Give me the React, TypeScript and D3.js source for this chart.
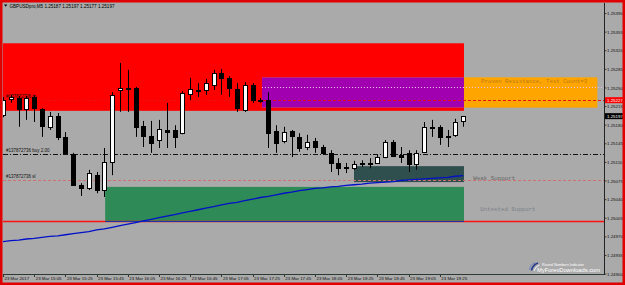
import React from "react";
import * as d3 from "d3";

const symbolName = "GBPUSDpro,M5";

const timeLabels = [
  "23 Mar 2017", "23 Mar 15:05", "23 Mar 15:25", "23 Mar 15:45", "23 Mar 16:05",
  "23 Mar 16:25", "23 Mar 16:45", "23 Mar 17:05", "23 Mar 17:25", "23 Mar 17:45",
  "23 Mar 18:05", "23 Mar 18:25", "23 Mar 18:45", "23 Mar 19:05", "23 Mar 19:25",
];
const timeLabelBars = [0, 4, 8, 12, 16, 20, 24, 28, 32, 36, 40, 44, 48, 52, 56];

const priceTicks = [
  1.2539, 1.25355, 1.2532, 1.25285, 1.2525, 1.25215, 1.2518, 1.25145,
  1.2511, 1.25075, 1.2504, 1.25005, 1.2497, 1.24935, 1.249,
];

const opens = [
  1.25199, 1.25229, 1.25231, 1.2521, 1.25233, 1.2521, 1.25177, 1.25197, 1.25158, 1.25126,
  1.25067, 1.25062, 1.25086, 1.25058, 1.25111, 1.25246, 1.25248, 1.2525, 1.25178, 1.2516,
  1.25152, 1.25171, 1.25171, 1.25165, 1.25239, 1.25246, 1.25246, 1.25256, 1.25278, 1.25269,
  1.25248, 1.25208, 1.25256, 1.25227, 1.25227, 1.25169, 1.2515, 1.25169, 1.25158, 1.25139,
  1.2515, 1.25139, 1.25128, 1.25109, 1.25101, 1.25099, 1.25107, 1.25107, 1.25109, 1.2512,
  1.25148, 1.25124, 1.25128, 1.25107, 1.2513, 1.25177, 1.25177, 1.2516, 1.25162, 1.25187,
];
const highs = [
  1.25233, 1.25237, 1.25235, 1.25235, 1.25237, 1.25212, 1.25205, 1.25203, 1.25167, 1.25128,
  1.25071, 1.25096, 1.25092, 1.25137, 1.25242, 1.25297, 1.25284, 1.25252, 1.25188, 1.25188,
  1.2519, 1.25222, 1.2518, 1.25244, 1.25269, 1.25259, 1.25267, 1.25284, 1.25286, 1.25272,
  1.25259, 1.25261, 1.25259, 1.25231, 1.25242, 1.2518, 1.25177, 1.25171, 1.25165, 1.25162,
  1.25156, 1.25143, 1.25133, 1.25118, 1.25109, 1.25113, 1.25114, 1.25118, 1.25124, 1.25152,
  1.25152, 1.25139, 1.25133, 1.25133, 1.25186, 1.2519, 1.2518, 1.25171, 1.25192, 1.25197,
];
const lows = [
  1.25195, 1.25222, 1.25177, 1.2519, 1.25186, 1.25158, 1.25171, 1.25152, 1.25126, 1.25066,
  1.25047, 1.25058, 1.25052, 1.25045, 1.25086, 1.25205, 1.25205, 1.25158, 1.25139, 1.25128,
  1.25137, 1.25137, 1.25137, 1.25163, 1.25227, 1.25233, 1.25237, 1.25246, 1.25237, 1.25233,
  1.25205, 1.25205, 1.25222, 1.25222, 1.25137, 1.25128, 1.25146, 1.2512, 1.2513, 1.25133,
  1.25128, 1.25124, 1.25092, 1.25086, 1.2509, 1.25096, 1.25101, 1.25099, 1.25107, 1.25118,
  1.2512, 1.25109, 1.25092, 1.25096, 1.25128, 1.25158, 1.25143, 1.25139, 1.25158, 1.25177,
];
const closes = [
  1.25227, 1.25233, 1.2521, 1.25231, 1.25212, 1.25178, 1.25197, 1.25158, 1.25128, 1.25067,
  1.25062, 1.2509, 1.25058, 1.25111, 1.25237, 1.2525, 1.2525, 1.25177, 1.2516, 1.25146,
  1.25173, 1.25167, 1.25158, 1.2524, 1.25248, 1.25244, 1.25259, 1.25278, 1.25269, 1.2525,
  1.25212, 1.25256, 1.25227, 1.25225, 1.25165, 1.25146, 1.25167, 1.2516, 1.25137, 1.25148,
  1.25139, 1.25128, 1.25109, 1.25099, 1.25099, 1.25107, 1.25109, 1.25109, 1.2512, 1.25148,
  1.25122, 1.2512, 1.25107, 1.25128, 1.25177, 1.25175, 1.25158, 1.25158, 1.25186, 1.25197,
];

const maValues = [
  1.24961, 1.24963, 1.24964, 1.24966, 1.24967, 1.24969, 1.24971, 1.24972, 1.24974, 1.24976,
  1.24978, 1.2498, 1.24983, 1.24985, 1.24988, 1.24991, 1.24994, 1.24997, 1.25, 1.25003,
  1.25006, 1.25009, 1.25012, 1.25015, 1.25018, 1.25021, 1.25024, 1.25027, 1.2503, 1.25033,
  1.25035, 1.25038, 1.25041, 1.25044, 1.25046, 1.25049, 1.25052, 1.25054, 1.25057, 1.25059,
  1.25061, 1.25062, 1.25064, 1.25065, 1.25067, 1.25068, 1.25069, 1.25071, 1.25072, 1.25073,
  1.25074, 1.25076, 1.25077, 1.25078, 1.25079, 1.2508, 1.25081, 1.25082, 1.25084, 1.25085,
];

// supply / demand zones (prices and bar indices)
const zoneNames = ["", "Proven Resistance, Test Count=3", "Weak Support", "Untested Support"];
const zoneHigh = [1.25334, 1.2527, 1.25103, 1.25064];
const zoneLow = [1.25207, 1.25213, 1.25073, 1.24999];
const zoneFrom = [-2, 33.2, 45, 13.1];
const zoneTo = [59.1, 76.2, 59.1, 59.1];
const zoneLabelBar = [0, 61.3, 60.3, 61.2];
const zoneLabelPrice = [0, 1.25263, 1.25081, 1.25022];

// horizontal lines (start bar for each)
const lineNames = ["#137872736 tp", "", "#137872736 buy 2.00", "#137872736 sl", ""];
const linePrices = [1.25227, 1.25251, 1.25126, 1.25077, 1.25];
const lineFromBar = [-1, 33.2, -1, -1, -1];

export default function App() {
  const W = 625, H = 285;
  const left = 3, right = 604, top = 3, bottom = 274;
  const barStep = 7.8;
  const x = d3.scaleLinear().domain([0, (right - left) / barStep]).range([left, right]);
  const y = d3.scaleLinear().domain([1.2539, 1.249]).range([13.5, 274.1]);
  const font = "'Liberation Sans', Arial, sans-serif";
  const mono = "'Liberation Mono', 'Courier New', monospace";

  const zoneFill = ["#ff0000", "#ffa500", "#2f4f4f", "#2e8b57"];
  const zoneText = ["#000", "#b87a12", "#686868", "#7a8088"];
  const zoneTextLen = [0, 106, 42, 55];

  const ovFrom = Math.max(zoneFrom[0], zoneFrom[1]);
  const ovTo = Math.min(zoneTo[0], zoneTo[1]);
  const ovHi = Math.min(zoneHigh[0], zoneHigh[1]);
  const ovLo = Math.max(zoneLow[0], zoneLow[1]);

  const maLine = d3.line<number>().x((_, i) => x(i)).y((d) => y(d));

  const n = closes.length;
  const last = n - 1;
  const header = `${symbolName}  ${opens[last].toFixed(5)} ${highs[last].toFixed(5)} ${lows[last].toFixed(5)} ${closes[last].toFixed(5)}`;

  const lineStyles = [
    { stroke: "#e81010", dash: "3 2", w: 1 },
    { stroke: "#f0c0ee", dash: "1 2", w: 1 },
    { stroke: "#111", dash: "5 2 1 2", w: 1 },
    { stroke: "#d07070", dash: "3 2", w: 1 },
    { stroke: "#ff1010", dash: "", w: 1.3 },
  ];

  return (
    <svg width={W} height={H} style={{ position: "absolute", left: 0, top: 0, display: "block" }}
      xmlns="http://www.w3.org/2000/svg">
      <defs>
        <clipPath id="plot">
          <rect x={left} y={top} width={right - left} height={bottom - top} />
        </clipPath>
      </defs>
      <rect x={0} y={0} width={W} height={H} fill="#aaaaaa" />
      <g clipPath="url(#plot)">
        {zoneNames.map((nm, i) => (
          <rect key={"z" + i} x={x(zoneFrom[i])} y={y(zoneHigh[i])}
            width={x(zoneTo[i]) - x(zoneFrom[i])} height={y(zoneLow[i]) - y(zoneHigh[i])}
            fill={zoneFill[i]} />
        ))}
        <rect x={x(ovFrom)} y={y(ovHi)} width={x(ovTo) - x(ovFrom)} height={y(ovLo) - y(ovHi)} fill="#a000b0" />
        {zoneNames.map((nm, i) => nm ? (
          <text key={"zt" + i} x={x(zoneLabelBar[i])} y={y(zoneLabelPrice[i]) + 2}
            fontFamily={mono} fontSize={5.7} fill={zoneText[i]}
            textLength={zoneTextLen[i]} lengthAdjust="spacingAndGlyphs">{nm}</text>
        ) : null)}
        {linePrices.map((p, i) => (
          <line key={"l" + i} x1={Math.max(left, x(lineFromBar[i]))} x2={right}
            y1={Math.round(y(p)) + 0.5} y2={Math.round(y(p)) + 0.5}
            stroke={lineStyles[i].stroke} strokeWidth={lineStyles[i].w}
            strokeDasharray={lineStyles[i].dash || undefined} />
        ))}
        <line x1={x(zoneFrom[3])} x2={x(zoneTo[3])} y1={Math.round(y(zoneLow[3])) + 0.5} y2={Math.round(y(zoneLow[3])) + 0.5}
          stroke="#2630a0" strokeWidth={1} />
        <path d={maLine(maValues) || ""} fill="none" stroke="#0010c8" strokeWidth={1.3} />
        {closes.map((c, i) => {
          const o = opens[i];
          const cx = Math.round(x(i));
          const yH = y(highs[i]), yL = y(lows[i]);
          const yO = Math.round(y(o)), yC = Math.round(y(c));
          const bull = c >= o;
          const bTop = Math.min(yO, yC);
          const bH = Math.max(1, Math.abs(yO - yC));
          return (
            <g key={"c" + i}>
              <line x1={cx + 0.5} x2={cx + 0.5} y1={yH} y2={yL} stroke="#000" strokeWidth={1} />
              {bull ? (
                <rect x={cx - 1.5} y={bTop + 0.5} width={4} height={Math.max(1, bH)}
                  fill="#ffffff" stroke="#000" strokeWidth={1} />
              ) : (
                <rect x={cx - 2} y={bTop} width={5} height={bH + 1} fill="#000" />
              )}
            </g>
          );
        })}
        {lineNames.map((nm, i) => nm ? (
          <text key={"lt" + i} x={6} y={y(linePrices[i]) - 1.8} fontFamily={font} fontSize={4.5} fill="#111">{nm}</text>
        ) : null)}
      </g>

      {/* header */}
      <path d="M4 4.6 L7.4 4.6 L5.7 6.8 Z" fill="#000" />
      <text x={9.5} y={7.6} fontFamily={font} fontSize={4.6} fill="#000" textLength={105} lengthAdjust="spacingAndGlyphs">{header}</text>

      {/* axes */}
      <line x1={right + 0.5} x2={right + 0.5} y1={top} y2={bottom + 1} stroke="#222" strokeWidth={1} />
      <line x1={left} x2={right + 1} y1={bottom + 0.5} y2={bottom + 0.5} stroke="#2e3a34" strokeWidth={1} />
      {priceTicks.map((p) => (
        <g key={"p" + p}>
          <line x1={right} x2={right + 2.5} y1={y(p)} y2={y(p)} stroke="#222" strokeWidth={0.8} />
          <text x={607} y={y(p) + 1.6} fontFamily={font} fontSize={4.4} fill="#111">{p.toFixed(5)}</text>
        </g>
      ))}
      <rect x={right + 1} y={y(linePrices[0]) - 3} width={19} height={6} fill="#ff0000" />
      <text x={607} y={y(linePrices[0]) + 1.6} fontFamily={font} fontSize={4.4} fill="#fff">{linePrices[0].toFixed(5)}</text>
      <rect x={right + 1} y={y(closes[last]) - 3} width={19} height={6} fill="#000" />
      <text x={607} y={y(closes[last]) + 1.6} fontFamily={font} fontSize={4.4} fill="#fff">{closes[last].toFixed(5)}</text>
      {timeLabels.map((t, k) => (
        <g key={"t" + k}>
          <line x1={Math.round(x(timeLabelBars[k])) + 0.5} x2={Math.round(x(timeLabelBars[k])) + 0.5}
            y1={bottom} y2={bottom + 3} stroke="#2e3a34" strokeWidth={1} />
          <text x={x(timeLabelBars[k]) + 1.5} y={280.3} fontFamily={font} fontSize={4.4} fill="#111">{t}</text>
        </g>
      ))}

      {/* watermark */}
      <path d="M529.5 270 Q530 264.5 535 262.5" stroke="#6a82c4" strokeWidth={1} fill="none" />
      <path d="M531.5 270.5 Q532.5 265 538 263" stroke="#27398a" strokeWidth={1.6} fill="none" />
      <path d="M534 271 Q535 266.5 539.5 265" stroke="#eef2fa" strokeWidth={1} fill="none" />
      <text x={542} y={265.5} fontFamily={font} fontSize={4} fill="#ffffff" textLength={42} lengthAdjust="spacingAndGlyphs">Round Numbers Indicator</text>
      <text x={537} y={272} fontFamily={font} fontSize={5.6} fill="#ffffff" textLength={63} lengthAdjust="spacingAndGlyphs">MyForexDownloads.com</text>

      {/* outer border */}
      <rect x={1.25} y={1.25} width={W - 2.5} height={H - 2.5} fill="none" stroke="#e00000" strokeWidth={2.5} />
    </svg>
  );
}
